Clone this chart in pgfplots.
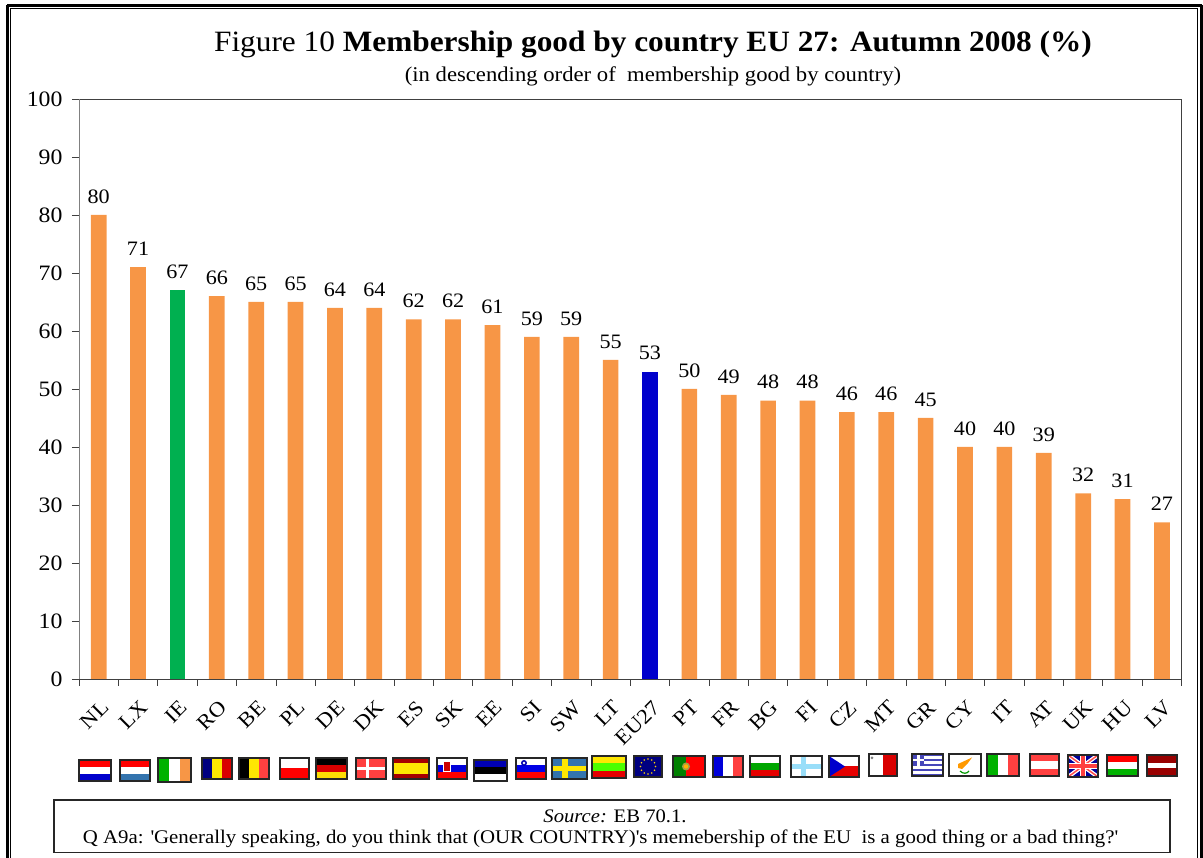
\documentclass[border=0pt]{standalone}
\usepackage{fontspec}
\setmainfont[FakeStretch=1.08]{Liberation Serif}
\usepackage{pgfplots}
\pgfplotsset{compat=1.18}
\definecolor{barO}{HTML}{F79646}
\definecolor{barG}{HTML}{00B050}
\definecolor{barB}{HTML}{0000CC}
\definecolor{axd}{HTML}{404040}
\tikzset{ff/.style={draw=black!85,line width=1.6pt}}
% x0 x1 y0 y1 c1 c2 c3
\newcommand\fH[7]{\fill[#5] (#1,#3) rectangle (#2,{#3+(#4-#3)/3});\fill[#6] (#1,{#3+(#4-#3)/3}) rectangle (#2,{#3+2*(#4-#3)/3});\fill[#7] (#1,{#3+2*(#4-#3)/3}) rectangle (#2,#4);\draw[ff] (#1,#3) rectangle (#2,#4);}
\newcommand\fV[7]{\fill[#5] (#1,#3) rectangle ({#1+(#2-#1)/3},#4);\fill[#6] ({#1+(#2-#1)/3},#3) rectangle ({#1+2*(#2-#1)/3},#4);\fill[#7] ({#1+2*(#2-#1)/3},#3) rectangle (#2,#4);\draw[ff] (#1,#3) rectangle (#2,#4);}
\begin{document}
\begin{tikzpicture}[x=1pt,y=1pt]
\path[use as bounding box] (0,0) rectangle (1203,858);
\begin{axis}[
  at={(79pt,179pt)},anchor=south west,
  scale only axis,width=1102.6pt,height=580pt,
  xmin=0,xmax=28,ymin=0,ymax=100,
  ytick={0,10,...,100},
  xtick={0.5,1.5,...,27.5},
  xticklabels={NL,LX,IE,RO,BE,PL,DE,DK,ES,SK,EE,SI,SW,LT,EU27,PT,FR,BG,FI,CZ,MT,GR,CY,IT,AT,UK,HU,LV},
  minor xtick={0,1,...,28},
  tick align=outside,
  major tick length=7pt,
  minor tick length=7pt,
  x tick style={draw=none},
  minor x tick style={draw=axd,line width=0.7pt},
  y tick style={draw=axd,line width=0.7pt},
  axis line style={draw=axd,line width=0.9pt},
  axis x line*=bottom,
  axis y line*=left,
  tick label style={font=\fontsize{22}{23}\selectfont,/pgf/number format/assume math mode=true},
  yticklabel style={xshift=-6pt},
  xticklabel style={rotate=45,anchor=north east,xshift=-5pt,yshift=-7pt,font=\fontsize{21}{22}\selectfont},
  ybar,bar width=15.7pt,bar shift=0pt,
  nodes near coords,
  every node near coord/.style={font=\fontsize{20.5}{21}\selectfont,text=black,/pgf/number format/assume math mode=true,yshift=8pt},
  clip=false,
]
\addplot[fill=barO,draw=none] coordinates {(0.5,80)(1.5,71)(3.5,66)(4.5,65)(5.5,65)(6.5,64)(7.5,64)(8.5,62)(9.5,62)(10.5,61)(11.5,59)(12.5,59)(13.5,55)(15.5,50)(16.5,49)(17.5,48)(18.5,48)(19.5,46)(20.5,46)(21.5,45)(22.5,40)(23.5,40)(24.5,39)(25.5,32)(26.5,31)(27.5,27)};
\addplot[fill=barG,draw=none] coordinates {(2.5,67)};
\addplot[fill=barB,draw=none] coordinates {(14.5,53)};
\end{axis}
% top and right edges, grey left edge
\draw[axd,line width=0.9pt] (72,759) -- (1181.6,759) -- (1181.6,179);
\draw[gray,line width=1pt] (79,759) -- (79,179);
\begin{scope}[yshift=858pt,y=-1pt]
% outer frame
\draw[black,line width=3pt] (7,5.5) -- (1201.5,5.5) (7,5.5) -- (7,858) (1201.5,5.5) -- (1201.5,858);
\draw[black,line width=1pt] (10.5,8.5) -- (1197.5,8.5) (10.5,8.5) -- (10.5,858) (1197.5,8.5) -- (1197.5,858);
% title
\node[anchor=center,font=\fontsize{29.5}{32}\selectfont,xscale=0.983] at (653,45) {Figure 10 \textbf{Membership good by country EU 27: Autumn 2008 (\%)}};
\node[anchor=center,font=\fontsize{21}{22}\selectfont] at (653,76.5) {(in descending order of\ \ membership good by country)};
% flags
\fH{79}{111}{760}{781}{red}{white}{blue!80!black}
\fH{120}{150}{760}{781}{red}{white}{cyan!60!blue!80!black}
\fV{158}{191}{758}{782}{green!70!black}{white}{barO}
\fV{202}{232}{758}{779}{blue!50!black}{yellow!90!orange}{red!85!black}
\fV{239}{269}{758}{779}{black}{yellow!90!orange}{red!75!white}
\fill[white] (280,758) rectangle (309,768.5);\fill[red] (280,768.5) rectangle (309,779);\draw[ff] (280,758) rectangle (309,779);
\fH{316}{347}{758}{779}{black}{red!85!black}{yellow!80!orange}
\fill[red!75!white] (356,758) rectangle (386,779);\fill[white] (366,758) rectangle (369,779);\fill[white] (356,767) rectangle (386,770);\draw[ff] (356,758) rectangle (386,779);
\fill[red!65!black] (393,758) rectangle (429,779);\fill[yellow!90!orange] (393,763) rectangle (429,774);\draw[ff] (393,758) rectangle (429,779);
\fH{437}{467}{758}{779}{white}{blue!85!black}{red}
\fill[white] (443,761) rectangle (451,772);\fill[red!80!black] (444,762) rectangle (450,771);
\fH{474}{507}{760}{781}{blue!70!black}{black}{white}
\fH{516}{546}{758}{779}{white}{blue!90!black}{red}
\fill[blue!70!black] (524,763) circle (3);\fill[white] (524,763) circle (1.3);
\fill[cyan!60!blue!80!black] (552,758) rectangle (587,779);\fill[yellow!90!orange] (562,758) rectangle (568,779);\fill[yellow!90!orange] (552,766) rectangle (587,771);\draw[ff] (552,758) rectangle (587,779);
\fH{592}{626}{756}{778}{yellow!90!orange}{green!70!yellow}{red!90!black}
\fill[blue!50!black] (634,756) rectangle (662,777);
\foreach \a in {0,30,...,330} {\fill[yellow!70!orange] ({648+7.5*cos(\a)},{766.5+7.5*sin(\a)}) circle (0.9);}
\draw[ff] (634,756) rectangle (662,777);
\fill[green!50!black] (673,756) rectangle (686,777);\fill[red] (686,756) rectangle (705,777);\fill[yellow!60!black] (686,766.5) circle (4);\fill[orange!60!yellow] (686,766.5) circle (2.2);\draw[ff] (673,756) rectangle (705,777);
\fV{713}{743}{756}{777}{blue!85!black}{white}{red!75!white}
\fH{750}{780}{756}{777}{white}{green!65!black}{red!90!black}
\fill[white] (791,756) rectangle (822,777);\fill[cyan!40!white] (801,756) rectangle (806,777);\fill[cyan!40!white] (791,764) rectangle (822,769);\draw[ff] (791,756) rectangle (822,777);
\fill[white] (829,756) rectangle (859,766.5);\fill[red!90!black] (829,766.5) rectangle (859,777);\fill[blue!80!black] (829,756) -- (845,766.5) -- (829,777) -- cycle;\draw[ff] (829,756) rectangle (859,777);
\fill[white] (869,754) rectangle (883,776);\fill[red!85!black] (883,754) rectangle (897,776);\fill[gray] (872,758) circle (1.5);\draw[ff] (869,754) rectangle (897,776);
% Greece
\fill[white] (912,754) rectangle (943,776);
\foreach \k in {0,2,4,6,8} {\fill[blue!45!gray] (912,{754+\k*22/9}) rectangle (943,{754+(\k+1)*22/9});}
\fill[blue!45!gray] (912,754) rectangle (924,766.2);\fill[white] (917,754) rectangle (919.5,766.2);\fill[white] (912,759) rectangle (924,761.5);\draw[ff] (912,754) rectangle (943,776);
% Cyprus
\fill[white] (949,754) rectangle (981,776);\fill[orange!80!yellow] (958,764) -- (972,757.5) -- (968,763) -- (962,769) -- (958,768) -- cycle;\draw[green!60!black,line width=1.2pt] (960,771) .. controls (963,774) and (967,774) .. (969,771);\draw[ff] (949,754) rectangle (981,776);
\fV{987}{1019}{754}{776}{green!70!black}{white}{red!75!white}
\fH{1030}{1059}{754}{776}{red!75!white}{white}{red!75!white}
% UK
\begin{scope}
\fill[blue!60!black] (1068,755) rectangle (1098,777);
\clip (1068,755) rectangle (1098,777);
\draw[white,line width=4pt] (1068,755) -- (1098,777) (1068,777) -- (1098,755);
\draw[red!70!white,line width=1.5pt] (1068,755) -- (1098,777) (1068,777) -- (1098,755);
\draw[white,line width=6pt] (1083,755) -- (1083,777) (1068,766) -- (1098,766);
\draw[red!75!white,line width=3.5pt] (1083,755) -- (1083,777) (1068,766) -- (1098,766);
\end{scope}
\draw[ff] (1068,755) rectangle (1098,777);
\fH{1107}{1138}{755}{776}{red}{white}{green!70!black}
\fill[red!60!black] (1147,755) rectangle (1177,776);\fill[white] (1147,763.5) rectangle (1177,768);\draw[ff] (1147,755) rectangle (1177,776);
% source box
\draw[black!85,line width=1.6pt,fill=white] (54,800) rectangle (1170,852.5);
\node[font=\fontsize{19.1}{20}\selectfont] at (615,816) {\textit{Source:} EB 70.1.};
\node[font=\fontsize{19.3}{20}\selectfont] at (600.5,839) {Q A9a: \textquotesingle Generally speaking, do you think that (OUR COUNTRY)\textquotesingle s memebership of the EU\ \ is a good thing or a bad thing?\textquotesingle};
\end{scope}
\end{tikzpicture}
\end{document}
